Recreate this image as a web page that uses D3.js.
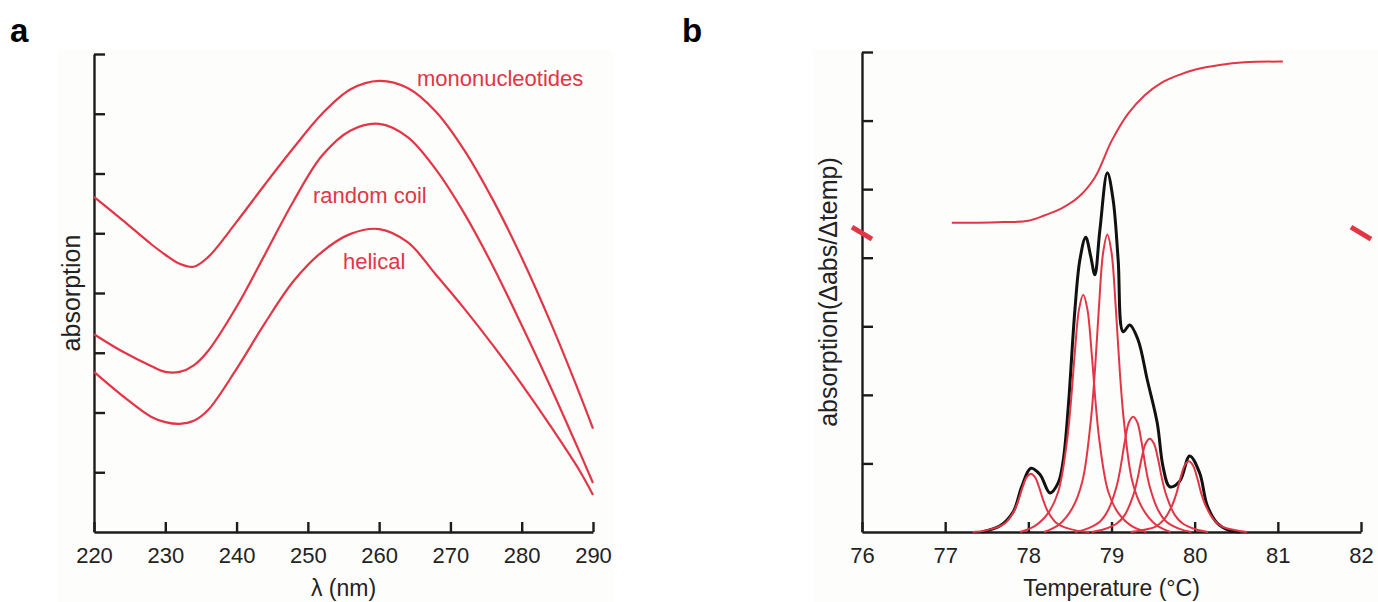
<!DOCTYPE html>
<html>
<head>
<meta charset="utf-8">
<script src="https://cdn.jsdelivr.net/npm/d3@7/dist/d3.min.js"></script>
<style>
  html, body { margin: 0; padding: 0; background: #ffffff; }
  svg { display: block; }
  text { font-family: "Liberation Sans", Arial, Helvetica, sans-serif; }
</style>
</head>
<body>
<svg id="fig" width="1378" height="602"></svg>
<script>
// ---------- Panel a: absorption spectra ----------
const wavelengths = [220, 224, 228, 230, 232, 234, 236, 240, 244, 248, 252, 256, 260, 264, 268, 272, 276, 280, 284, 288, 290];
const mononucleotides = [5.61, 5.22, 4.82, 4.64, 4.49, 4.44, 4.60, 5.19, 5.82, 6.43, 7.00, 7.41, 7.55, 7.43, 7.03, 6.38, 5.55, 4.59, 3.52, 2.35, 1.73];
const randomCoil      = [3.31, 3.02, 2.78, 2.68, 2.68, 2.79, 3.03, 3.77, 4.65, 5.54, 6.30, 6.72, 6.83, 6.61, 6.06, 5.32, 4.44, 3.46, 2.44, 1.37, 0.82];
const helical         = [2.68, 2.28, 1.93, 1.84, 1.81, 1.86, 2.04, 2.73, 3.50, 4.20, 4.69, 4.99, 5.07, 4.85, 4.30, 3.73, 3.12, 2.47, 1.78, 1.05, 0.62];
const spectraNames = ["mononucleotides", "random coil", "helical"];
const wavelengthTicks = [220, 230, 240, 250, 260, 270, 280, 290];
const absorptionTicks = [1, 2, 3, 4, 5, 6, 7, 8];
// label anchors: [wavelength, absorption]
const spectraLabelAnchors = [[265.3, 7.46], [258.7, 5.51], [259.3, 4.40]];

// ---------- Panel b: melting profile ----------
const temperatureTicks = [76, 77, 78, 79, 80, 81, 82];
const derivativeTicks = [1, 2, 3, 4, 5, 6, 7];
// melting curve (absorbance vs temperature)
const meltTemp  = [77.08, 77.40, 77.70, 78.00, 78.20, 78.40, 78.60, 78.80, 79.00, 79.20, 79.40, 79.60, 79.80, 80.00, 80.30, 80.60, 81.06];
const meltValue = [4.51, 4.51, 4.52, 4.54, 4.62, 4.72, 4.88, 5.17, 5.70, 6.10, 6.37, 6.55, 6.66, 6.74, 6.81, 6.85, 6.86];
// measured derivative (black)
const derivTemp  = [77.44, 77.66, 77.82, 77.92, 78.03, 78.14, 78.26, 78.36, 78.42, 78.48, 78.56, 78.62, 78.69, 78.75, 78.80, 78.86, 78.95, 79.02, 79.08, 79.14, 79.22, 79.32, 79.43, 79.55, 79.62, 79.70, 79.82, 79.94, 80.06, 80.15, 80.27, 80.40, 80.54];
const derivValue = [0.00, 0.09, 0.30, 0.66, 0.93, 0.84, 0.57, 0.72, 1.05, 1.82, 3.24, 3.97, 4.30, 4.02, 3.75, 4.40, 5.24, 4.84, 3.97, 2.92, 3.02, 2.80, 2.22, 1.59, 0.95, 0.66, 0.74, 1.11, 0.86, 0.39, 0.13, 0.03, 0.00];
// fitted component peaks (red)
const peak1Temp = [77.33, 77.48, 77.63, 77.73, 77.83, 77.88, 77.93, 77.98, 78.03, 78.08, 78.13, 78.18, 78.23, 78.33, 78.43, 78.58, 78.73];
const peak1Value = [0.00, 0.02, 0.07, 0.14, 0.31, 0.46, 0.65, 0.80, 0.85, 0.80, 0.65, 0.46, 0.31, 0.14, 0.07, 0.02, 0.00];
const peak2Temp = [77.90, 78.08, 78.24, 78.36, 78.46, 78.51, 78.56, 78.61, 78.66, 78.71, 78.76, 78.81, 78.86, 78.96, 79.08, 79.24, 79.42];
const peak2Value = [0.00, 0.09, 0.28, 0.59, 1.28, 1.87, 2.63, 3.25, 3.46, 3.25, 2.63, 1.87, 1.28, 0.59, 0.28, 0.09, 0.00];
const peak3Temp = [78.19, 78.37, 78.53, 78.65, 78.75, 78.80, 78.85, 78.90, 78.95, 79.00, 79.05, 79.10, 79.15, 79.25, 79.37, 79.53, 79.71];
const peak3Value = [0.00, 0.11, 0.35, 0.74, 1.61, 2.34, 3.30, 4.08, 4.34, 4.08, 3.30, 2.34, 1.61, 0.74, 0.35, 0.11, 0.00];
const peak4Temp = [78.56, 78.71, 78.86, 78.96, 79.06, 79.11, 79.16, 79.21, 79.26, 79.31, 79.36, 79.41, 79.46, 79.56, 79.66, 79.81, 79.96];
const peak4Value = [0.00, 0.05, 0.15, 0.32, 0.66, 0.95, 1.32, 1.60, 1.68, 1.60, 1.32, 0.95, 0.66, 0.32, 0.15, 0.05, 0.00];
const peak5Temp = [78.76, 78.91, 79.06, 79.16, 79.26, 79.31, 79.36, 79.41, 79.46, 79.51, 79.56, 79.61, 79.66, 79.76, 79.86, 80.01, 80.16];
const peak5Value = [0.00, 0.04, 0.12, 0.25, 0.53, 0.76, 1.06, 1.29, 1.36, 1.29, 1.06, 0.76, 0.53, 0.25, 0.12, 0.04, 0.00];
const peak6Temp = [79.23, 79.38, 79.53, 79.63, 79.73, 79.78, 79.83, 79.88, 79.93, 79.98, 80.03, 80.08, 80.13, 80.23, 80.33, 80.48, 80.63];
const peak6Value = [0.00, 0.03, 0.08, 0.18, 0.39, 0.56, 0.79, 0.97, 1.03, 0.97, 0.79, 0.56, 0.39, 0.18, 0.08, 0.03, 0.00];
// axis-break marks on the derivative scale
const breakTemps = [76, 82];
const breakLevel = 4.36;

// ---------- drawing ----------
const RED = "#e23546";
const INK = "#1c1c1c";
const svg = d3.select("#fig");

// faint panel backdrops
svg.append("rect").attr("x", 58).attr("y", 50).attr("width", 555).attr("height", 552).attr("fill", "#fdfdfc");
svg.append("rect").attr("x", 813).attr("y", 50).attr("width", 565).attr("height", 552).attr("fill", "#fdfdfc");

function zip(xs, ys) { return xs.map((x, i) => [x, ys[i]]); }

function styleAxis(g) {
  g.selectAll(".domain").attr("stroke", INK).attr("stroke-width", 2.4);
  g.selectAll(".tick line").attr("stroke", INK).attr("stroke-width", 2.4);
  g.selectAll(".tick text").attr("fill", "#222").style("font-size", "22px")
    .style("font-family", "'Liberation Sans', Arial, sans-serif");
}

// ----- panel a -----
const xA = d3.scaleLinear().domain([220, 290]).range([94, 593]);
const yA = d3.scaleLinear().domain([0, 8]).range([532, 54]);

svg.append("g").attr("transform", `translate(0,${yA(0)})`)
  .call(d3.axisBottom(xA).tickValues(wavelengthTicks).tickSize(-10).tickSizeOuter(0).tickPadding(15).tickFormat(d3.format("d")))
  .call(styleAxis);
svg.append("g").attr("transform", `translate(${xA(220)},0)`)
  .call(d3.axisLeft(yA).tickValues(absorptionTicks).tickSize(-11).tickSizeOuter(0).tickFormat(""))
  .call(styleAxis);

const lineA = d3.line().x(d => xA(d[0])).y(d => yA(d[1])).curve(d3.curveCatmullRom.alpha(0.5));
[mononucleotides, randomCoil, helical].forEach(series => {
  svg.append("path").datum(zip(wavelengths, series))
    .attr("d", lineA).attr("fill", "none").attr("stroke", RED).attr("stroke-width", 2.2);
});
spectraNames.forEach((name, i) => {
  const a = spectraLabelAnchors[i];
  svg.append("text").attr("x", xA(a[0])).attr("y", yA(a[1]))
    .attr("text-anchor", i === 0 ? "start" : "middle")
    .attr("fill", RED).style("font-size", "22px").text(name);
});
svg.append("text").attr("x", (xA(220) + xA(290)) / 2).attr("y", 596)
  .attr("text-anchor", "middle").attr("fill", "#222").style("font-size", "23px").text("λ (nm)");
svg.append("text").attr("transform", `translate(80,${(yA(0) + yA(8)) / 2}) rotate(-90)`)
  .attr("text-anchor", "middle").attr("fill", "#222").style("font-size", "25px").text("absorption");
svg.append("text").attr("x", 10).attr("y", 42).attr("fill", "#000")
  .style("font-size", "33px").style("font-weight", "bold").text("a");

// ----- panel b -----
const xB = d3.scaleLinear().domain([76, 82]).range([862, 1361]);
const yB = d3.scaleLinear().domain([0, 7]).range([532, 52]);

svg.append("g").attr("transform", `translate(0,${yB(0)})`)
  .call(d3.axisBottom(xB).tickValues(temperatureTicks).tickSize(-10).tickSizeOuter(0).tickPadding(15).tickFormat(d3.format("d")))
  .call(styleAxis);
svg.append("g").attr("transform", `translate(${xB(76)},0)`)
  .call(d3.axisLeft(yB).tickValues(derivativeTicks).tickSize(-11).tickSizeOuter(0).tickFormat(""))
  .call(styleAxis);

const lineB = d3.line().x(d => xB(d[0])).y(d => yB(d[1])).curve(d3.curveCatmullRom.alpha(0.5));

svg.append("path").datum(zip(derivTemp, derivValue))
  .attr("d", lineB).attr("fill", "none").attr("stroke", "#111").attr("stroke-width", 3);

[[peak1Temp, peak1Value], [peak2Temp, peak2Value], [peak3Temp, peak3Value],
 [peak4Temp, peak4Value], [peak5Temp, peak5Value], [peak6Temp, peak6Value]].forEach(([t, v]) => {
  svg.append("path").datum(zip(t, v))
    .attr("d", lineB).attr("fill", "none").attr("stroke", RED).attr("stroke-width", 2);
});

svg.append("path").datum(zip(meltTemp, meltValue))
  .attr("d", lineB).attr("fill", "none").attr("stroke", RED).attr("stroke-width", 2);

breakTemps.forEach(t => {
  const cx = xB(t), cy = yB(breakLevel);
  svg.append("line").attr("x1", cx - 10).attr("y1", cy - 6).attr("x2", cx + 10).attr("y2", cy + 6)
    .attr("stroke", RED).attr("stroke-width", 5);
});

svg.append("text").attr("x", (xB(76) + xB(82)) / 2).attr("y", 596)
  .attr("text-anchor", "middle").attr("fill", "#222").style("font-size", "23px").text("Temperature (°C)");
svg.append("text").attr("transform", `translate(837,${(yB(0) + yB(7)) / 2}) rotate(-90)`)
  .attr("text-anchor", "middle").attr("fill", "#222").style("font-size", "25px").text("absorption(Δabs/Δtemp)");
svg.append("text").attr("x", 682).attr("y", 42).attr("fill", "#000")
  .style("font-size", "33px").style("font-weight", "bold").text("b");
</script>
</body>
</html>
